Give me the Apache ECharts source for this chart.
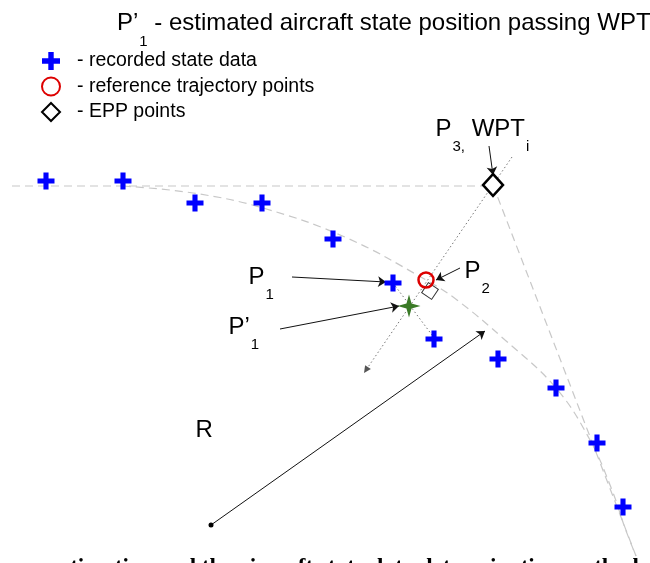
<!DOCTYPE html>
<html>
<head>
<meta charset="utf-8">
<script src="https://cdn.jsdelivr.net/npm/echarts@6/dist/echarts.min.js"></script>
<style>html,body{margin:0;padding:0;background:#fff;}#c{width:650px;height:563px;}</style>
</head>
<body>
<div id="c"></div>
<script>
// recorded state data (blue crosses)
const recX = [46, 123, 195, 262, 333, 393, 434, 498, 556, 597, 623];
const recY = [181, 181, 203, 203, 239, 283, 339, 359, 388, 443, 507];
// reference trajectory point P2
const refPt = [[426, 280]];
// EPP point P3 / WPTi
const eppPt = [[493, 185]];
// estimated position P'1
const estPt = [[409, 306]];
// nominal legs (straight) and fly-by arc
const leg1 = [[12, 186], [493, 186]];
const leg2 = [[493, 185], [636, 556]];
const arcX = [123, 193, 263, 347, 426, 457, 505, 556, 590, 612, 625, 636];
const arcY = [186, 193, 208, 238, 280, 300, 340, 388, 440, 490, 528, 556];
// dotted construction lines
const dotLines = [[[512, 157], [366, 370]], [[393, 283], [432, 335]]];
// arrows
const arrows = [
  [[292, 277], [386, 282]],
  [[280, 329], [399, 306]],
  [[460, 268], [436, 280]],
  [[489, 146], [493, 175]],
  [[211, 525], [485, 331]]
];
const centerDot = [[211, 525]];
const rightAngle = [[430, 291]];
// annotation labels
const labelPos = [[249, 278], [229, 328], [465, 272], [436, 130], [196, 431]];
const labelTxt = ['{m|P}{s|1}', '{m|P’}{s|1}', '{m|P}{s|2}', '{m|P}{s|3,}{m| WPT}{s|i}', '{m|R}'];
const legendNames = ['- recorded state data', '- reference trajectory points', '- EPP points'];
const titleText = '{m|P’}{t|1}{m| - estimated aircraft state position passing WPT}{t|i}';
const captionText = 'estimation and the aircraft state data determination method';

const FONT = 'Liberation Sans';
const rich = {
  m: { fontFamily: FONT, fontSize: 24, fontWeight: 'normal', color: '#000' },
  s: { fontFamily: FONT, fontSize: 15, fontWeight: 'normal', color: '#000', padding: [34, 0, 0, 1] },
  t: { fontFamily: FONT, fontSize: 15, fontWeight: 'normal', color: '#000', padding: [36, 0, 0, 1] }
};
const plusPath = 'path://M-1.2,-4 L1.2,-4 L1.2,-1.2 L4,-1.2 L4,1.2 L1.2,1.2 L1.2,4 L-1.2,4 L-1.2,1.2 L-4,1.2 L-4,-1.2 L-1.2,-1.2 Z';
const starPath = 'path://M0,-10 L2.2,-2.2 L10,0 L2.2,2.2 L0,10 L-2.2,2.2 L-10,0 L-2.2,-2.2 Z';

const chart = echarts.init(document.getElementById('c'));
chart.setOption({
  animation: false,
  backgroundColor: '#fff',
  title: [
    { text: titleText, left: 112, top: -7, textStyle: { fontWeight: 'normal', rich: rich } },
    { text: captionText, left: 46, top: 552,
      textStyle: { fontFamily: 'Liberation Serif', fontWeight: 'bold', fontSize: 23, color: '#000' } }
  ],
  legend: {
    orient: 'vertical', left: 36, top: 46, itemWidth: 18, itemHeight: 18, itemGap: 5.5,
    data: legendNames,
    textStyle: { fontFamily: FONT, fontSize: 19.5, lineHeight: 18, color: '#000', padding: [0, 0, 0, 12] }
  },
  grid: { left: 0, right: 0, top: 0, bottom: 0 },
  xAxis: { type: 'value', min: 0, max: 650, show: false },
  yAxis: { type: 'value', min: 0, max: 563, inverse: true, show: false },
  series: [
    { type: 'line', data: leg1, symbol: 'none', silent: true, z: 1,
      lineStyle: { color: '#c8c8c8', width: 1.2, type: [8, 5] } },
    { type: 'line', data: leg2, symbol: 'none', silent: true, z: 1,
      lineStyle: { color: '#c8c8c8', width: 1.2, type: [8, 5] } },
    { type: 'line', data: arcX.map((x, i) => [x, arcY[i]]), symbol: 'none', smooth: 0.4, z: 1,
      lineStyle: { color: '#c8c8c8', width: 1.2, type: [8, 5] } },
    { type: 'lines', coordinateSystem: 'cartesian2d', z: 2,
      data: dotLines.map(c => ({ coords: c })),
      symbol: ['none', 'none'],
      lineStyle: { color: '#777', width: 1, type: [1.5, 2.5], opacity: 1 } },
    { type: 'lines', coordinateSystem: 'cartesian2d', z: 2,
      data: [{ coords: dotLines[0] }],
      symbol: ['none', 'triangle'], symbolSize: 7,
      lineStyle: { color: '#555', width: 0, opacity: 1 } },
    { type: 'lines', coordinateSystem: 'cartesian2d', z: 3,
      data: arrows.map(c => ({ coords: c })),
      symbol: ['none', 'arrow'], symbolSize: 8,
      lineStyle: { color: '#111', width: 1, opacity: 1 } },
    { type: 'scatter', data: rightAngle, symbol: 'rect', symbolSize: 12, symbolRotate: -34, z: 4,
      itemStyle: { color: 'rgba(0,0,0,0)', borderColor: '#333', borderWidth: 1, opacity: 1 } },
    { type: 'scatter', data: centerDot, symbol: 'circle', symbolSize: 5, z: 4,
      itemStyle: { color: '#000', opacity: 1 } },
    { name: legendNames[0], type: 'scatter', data: recX.map((x, i) => [x, recY[i]]),
      symbol: plusPath, symbolSize: 17, z: 5, itemStyle: { color: '#0000ff', opacity: 1 } },
    { name: legendNames[1], type: 'scatter', data: refPt, symbol: 'circle', symbolSize: 15, z: 5,
      itemStyle: { color: 'rgba(255,255,255,0)', borderColor: '#dd0000', borderWidth: 2.5, opacity: 1 } },
    { name: legendNames[2], type: 'scatter', data: eppPt, symbol: 'diamond', symbolSize: [20, 22], z: 5,
      itemStyle: { color: '#fff', borderColor: '#000', borderWidth: 2.5, opacity: 1 } },
    { type: 'scatter', data: estPt, symbol: starPath, symbolSize: 23, z: 5,
      itemStyle: { color: '#3a7a26', opacity: 1 } },
    { type: 'scatter', data: labelPos, symbolSize: 1, z: 6,
      itemStyle: { color: 'rgba(0,0,0,0)', opacity: 1 },
      label: { show: true, position: [0, 0], align: 'left', verticalAlign: 'middle', color: '#000',
        formatter: p => labelTxt[p.dataIndex], rich: rich } }
  ]
});
</script>
</body>
</html>
